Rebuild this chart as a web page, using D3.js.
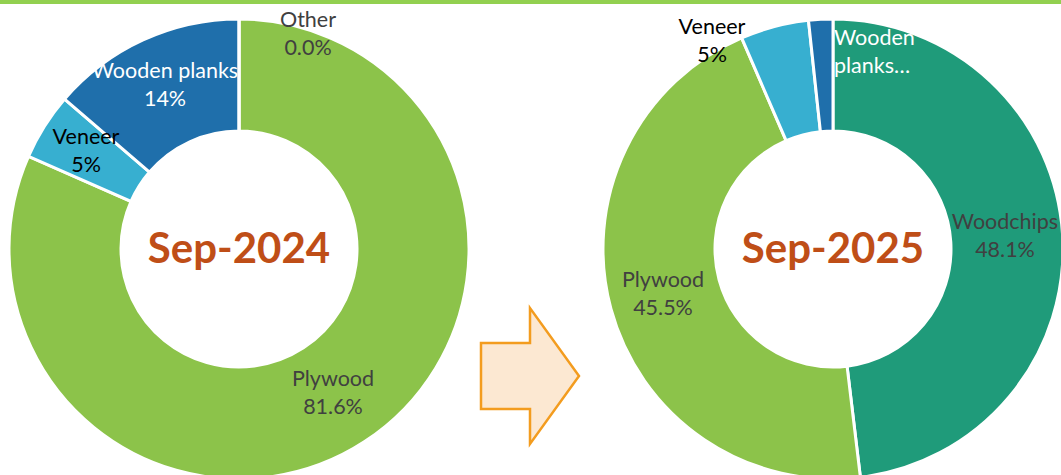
<!DOCTYPE html>
<html>
<head>
<meta charset="utf-8">
<script src="https://cdn.jsdelivr.net/npm/d3@7"></script>
<style>
  body { margin: 0; background: #fff; }
  svg { display: block; font-family: Lato, "Open Sans", sans-serif; }
</style>
</head>
<body>
<svg id="chart" width="1061" height="475"></svg>
<script>
// data
var categories2024 = ["Plywood", "Veneer", "Wooden planks", "Other"];
var values2024 = [81.6, 4.7, 13.7, 0.0];
var labels2024 = ["81.6%", "5%", "14%", "0.0%"];

var categories2025 = ["Woodchips", "Plywood", "Veneer", "Wooden planks"];
var values2025 = [48.1, 45.4, 4.8, 1.7];
var labels2025 = ["48.1%", "45.5%", "5%", ""];

var colors = {
    "Plywood": "#8cc34a",
    "Veneer": "#37afd0",
    "Wooden planks": "#1f6fab",
    "Woodchips": "#1f9b7a",
    "Other": "#f0a030"
};

var svg = d3.select("#chart");

svg.append("rect")
    .attr("x", 0).attr("y", 0)
    .attr("width", 1061).attr("height", 4)
    .attr("fill", "#92d050");

var pie = d3.pie().sort(null).value(function(d) { return d.v; });
var arc = d3.arc().innerRadius(118).outerRadius(230);

function donut(cx, cy, cats, vals, title, labelSpec) {
    var data = cats.map(function(c, i) { return { name: c, v: vals[i] }; });
    var g = svg.append("g").attr("transform", "translate(" + cx + "," + cy + ")");

    g.selectAll("path")
        .data(pie(data))
        .enter().append("path")
        .attr("d", arc)
        .attr("fill", function(d) { return colors[d.data.name]; })
        .attr("stroke", "#fff")
        .attr("stroke-width", 3);

    g.append("text")
        .attr("x", 0).attr("y", 14)
        .attr("text-anchor", "middle")
        .attr("font-size", 42)
        .attr("font-weight", "bold")
        .attr("fill", "#bf4e17")
        .text(title);

    labelSpec.forEach(function(l) {
        var t = g.append("text")
            .attr("x", l.x - cx).attr("y", l.y - cy)
            .attr("text-anchor", l.anchor || "middle")
            .attr("font-size", 21.5)
            .attr("fill", l.color);
        t.append("tspan").attr("x", l.x - cx).attr("dy", 0).text(l.line1);
        if (l.line2) t.append("tspan").attr("x", l.x - cx).attr("dy", 28).text(l.line2);
    });
}

donut(239, 249, categories2024, values2024, "Sep-2024", [
    { x: 308, y: 27, line1: categories2024[3], line2: labels2024[3], color: "#404040" },
    { x: 165, y: 78, line1: categories2024[2], line2: labels2024[2], color: "#ffffff" },
    { x: 86, y: 144, line1: categories2024[1], line2: labels2024[1], color: "#000000" },
    { x: 333, y: 386, line1: categories2024[0], line2: labels2024[0], color: "#404040" }
]);

donut(833, 249, categories2025, values2025, "Sep-2025", [
    { x: 1005, y: 229, line1: categories2025[0], line2: labels2025[0], color: "#404040" },
    { x: 663, y: 287, line1: categories2025[1], line2: labels2025[1], color: "#404040" },
    { x: 712, y: 34, line1: categories2025[2], line2: labels2025[2], color: "#000000" },
    { x: 834, y: 45, anchor: "start", line1: "Wooden", line2: "planks…", color: "#ffffff" }
]);

// arrow between the two donuts
svg.append("path")
    .attr("d", d3.line()([[481, 343], [530, 343], [530, 308], [579, 376], [530, 444], [530, 409], [481, 409]]) + "Z")
    .attr("fill", "#fce8d2")
    .attr("stroke", "#f39c1f")
    .attr("stroke-width", 2.5);
</script>
</body>
</html>
